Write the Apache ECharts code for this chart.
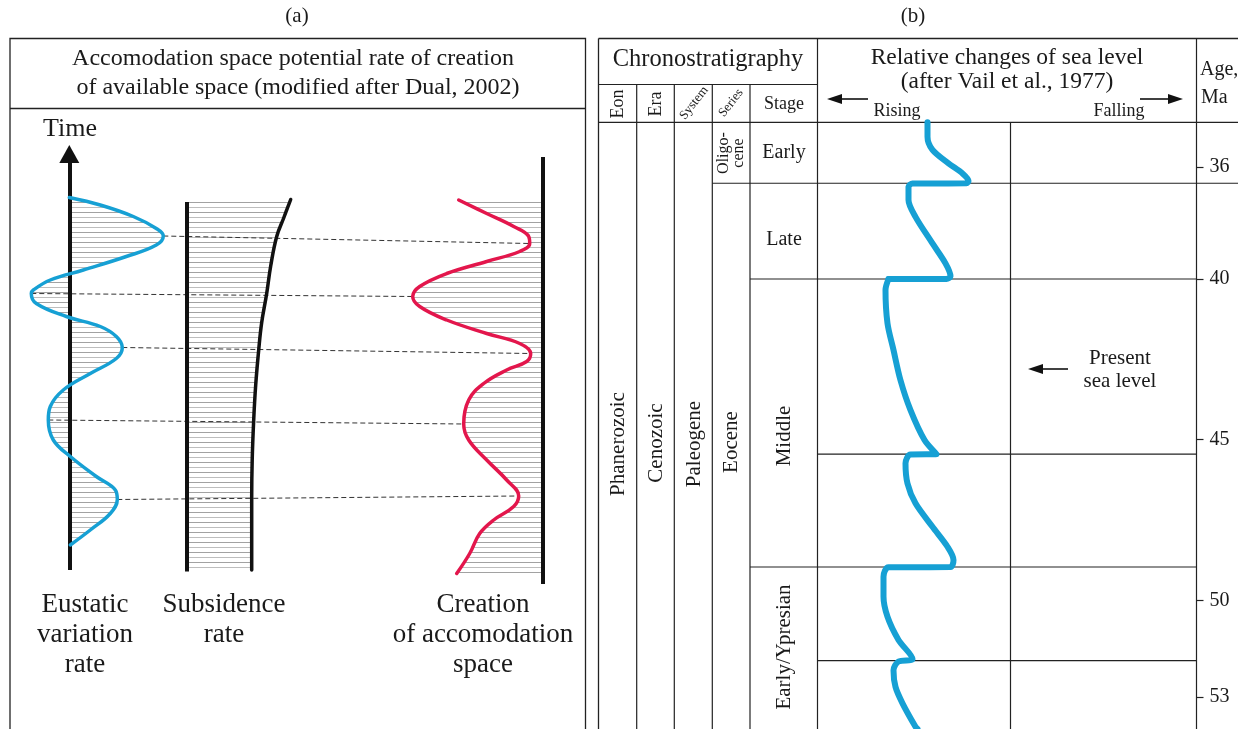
<!DOCTYPE html>
<html>
<head>
<meta charset="utf-8">
<title>Accommodation space and Eocene sea level</title>
<script src="https://cdn.jsdelivr.net/npm/echarts@6.0.0/dist/echarts.min.js"></script>
<style>
  html, body { margin: 0; padding: 0; background: #ffffff; }
  #chart { width: 1238px; height: 729px; }
</style>
</head>
<body>
<div id="chart"></div>
<script>
// ---------- (a) schematic rates: [rate, time], time grows upward (arbitrary units)
const eustaticRate = [
  [0.0, 75.5], [3.1, 74.0], [6.4, 71.7], [8.7, 69.3], [9.4, 67.8], [8.7, 66.0],
  [5.7, 63.7], [1.4, 61.0], [-1.9, 59.0], [-3.6, 57.0], [-3.8, 56.3], [-3.3, 54.3],
  [-0.3, 51.7], [3.1, 49.7], [4.7, 47.7], [5.3, 45.5], [4.7, 43.3], [2.1, 40.3],
  [-0.6, 37.0], [-1.9, 33.7], [-2.1, 31.0], [-1.6, 27.0], [0.1, 23.7], [2.7, 19.7],
  [4.6, 17.0], [4.8, 15.1], [4.1, 12.3], [2.1, 9.0], [0.1, 6.0]
];
const subsidenceRate = [
  [10.4, 75.1], [9.7, 71.4], [9.0, 67.7], [8.4, 61.8], [8.0, 56.3], [7.5, 50.5],
  [7.2, 45.0], [6.9, 38.0], [6.7, 31.0], [6.55, 23.0], [6.5, 15.7], [6.5, 1.0]
];
const accommodationRate = [
  [8.4, 75.0], [5.6, 72.3], [2.9, 69.7], [1.4, 67.7], [1.3, 66.3], [2.3, 64.7],
  [5.6, 62.7], [9.6, 60.3], [12.3, 57.7], [13.0, 55.7], [12.3, 53.7], [9.6, 51.0],
  [5.6, 48.3], [2.3, 46.3], [1.2, 44.3], [1.6, 42.7], [3.6, 41.0], [5.9, 38.3],
  [7.4, 35.0], [7.9, 30.2], [7.4, 27.0], [5.6, 23.0], [3.6, 19.0], [2.4, 15.8],
  [2.9, 13.7], [4.9, 11.0], [6.3, 8.3], [7.3, 4.3], [8.6, 0.3]
];
// index pairs of matching extrema: eustatic curve -> accommodation curve
const extremaLinks = [[4, 4], [10, 9], [15, 14], [20, 19], [25, 23]];

// ---------- (b) relative sea level (after Vail et al., 1977): [level vs present, age Ma]
const seaLevelUpper = [
  [0.83, 34.4], [0.83, 34.92], [0.78, 35.39], [0.62, 35.87], [0.48, 36.23],
  [0.42, 36.50], [0.44, 36.58], [0.98, 36.59], [1.02, 36.70], [1.02, 37.18],
  [0.95, 37.78], [0.78, 38.73], [0.65, 39.44], [0.60, 39.90], [0.64, 40.0], [1.22, 40.0]
];
const seaLevelLower = [
  [1.22, 40.0], [1.25, 40.34], [1.23, 41.38], [1.17, 42.21], [1.10, 43.15],
  [1.00, 44.08], [0.86, 45.01], [0.74, 45.45], [1.00, 45.46], [1.05, 45.73],
  [1.03, 46.36], [0.95, 46.98], [0.78, 47.71], [0.63, 48.33], [0.57, 48.74],
  [0.60, 48.96], [1.22, 48.97], [1.27, 49.26], [1.27, 49.88], [1.23, 50.51],
  [1.12, 51.23], [0.98, 51.82], [1.12, 51.90], [1.17, 52.17], [1.15, 52.69],
  [1.08, 53.20], [0.95, 53.93], [0.93, 54.0]
];
const ageTicksUpper = [36];
const ageTicksLower = [40, 45, 50, 53];
const epochBoundaryAge = 36.58;          // Oligocene / Eocene
const stageBoundaryAges = [40.0, 48.96]; // Late / Middle, Middle / Early
const cycleBoundaryAges = [45.45, 51.87];

// ---------- drawing setup
const FONT = '"Liberation Serif", "Times New Roman", serif';
const INK = '#1a1a1a';
const BLUE = '#16a0d4';
const RED = '#e3164c';

// horizontal hatching used between each rate curve and its reference line
const hatch = document.createElement('canvas');
hatch.width = 8; hatch.height = 10;
(function () {
  const c = hatch.getContext('2d');
  c.fillStyle = '#a2a2a2';
  c.fillRect(0, 2, 8, 1);
  c.fillStyle = '#bdbdbd';
  c.fillRect(0, 7, 8, 1);
})();

function hatchFill(grid, points) {
  return {
    type: 'custom', xAxisIndex: grid, yAxisIndex: grid, z: 2, silent: true,
    data: [[0, 0]],
    renderItem: function (params, api) {
      const pts = points.map(function (p) { return api.coord(p); });
      pts.push(api.coord([0, points[points.length - 1][1]]));
      pts.push(api.coord([0, points[0][1]]));
      return {
        type: 'polygon', shape: { points: pts },
        style: { fill: { image: hatch, repeat: 'repeat' }, stroke: null }
      };
    }
  };
}

function rateCurve(grid, data, color, width, smooth, extra) {
  return Object.assign({
    type: 'line', xAxisIndex: grid, yAxisIndex: grid, data: data, z: 6,
    smooth: smooth, showSymbol: false, symbol: 'none',
    silent: true, clip: false,
    lineStyle: { color: color, width: width, cap: 'round', join: 'round' }
  }, extra || {});
}

function refLine(from, to, withArrow) {
  return {
    silent: true, z: 5, animation: false,
    symbol: withArrow ? ['none', 'triangle'] : ['none', 'none'],
    symbolSize: [20, 18],
    label: { show: false },
    lineStyle: { color: '#111', width: 4, type: 'solid' },
    itemStyle: { color: '#111' },
    data: [[{ coord: from }, { coord: to }]]
  };
}

const seaMarker = {
  silent: true, symbol: ['none', 'none'], label: { show: false }, animation: false,
  lineStyle: { color: '#222', width: 1.2, type: 'solid' },
  data: [{ xAxis: 0 }]
};

function ageAxis(grid, min, max, ticks) {
  return {
    gridIndex: grid, type: 'value', min: min, max: max, inverse: true, position: 'right',
    axisLine: { show: false, onZero: false }, splitLine: { show: false },
    axisTick: { show: true, inside: false, length: 7, customValues: ticks,
      lineStyle: { color: '#222', width: 1.2 } },
    axisLabel: { show: true, customValues: ticks, margin: 13, color: INK,
      fontFamily: FONT, fontSize: 20 }
  };
}

const chart = echarts.init(document.getElementById('chart'), null, { renderer: 'canvas' });

chart.setOption({
  animation: false,
  backgroundColor: '#ffffff',
  grid: [
    { left: 19.3, top: 150, width: 150, height: 450 },   // eustatic
    { left: 186.7, top: 150, width: 150, height: 450 },  // subsidence
    { left: 392.7, top: 150, width: 150, height: 450 },  // accommodation
    { left: 817.5, top: 122.2, width: 379, height: 156.8 }, // 34.4–40 Ma
    { left: 817.5, top: 279, width: 379, height: 450 }      // 40–54 Ma
  ],
  xAxis: [
    { gridIndex: 0, type: 'value', min: -5, max: 10, show: false },
    { gridIndex: 1, type: 'value', min: 0, max: 15, show: false },
    { gridIndex: 2, type: 'value', min: 0, max: 15, inverse: true, show: false },
    { gridIndex: 3, type: 'value', min: -1.86, max: 1.93, inverse: true, show: false },
    { gridIndex: 4, type: 'value', min: -1.86, max: 1.93, inverse: true, show: false }
  ],
  yAxis: [
    { gridIndex: 0, type: 'value', min: -5, max: 85, show: false },
    { gridIndex: 1, type: 'value', min: -5, max: 85, show: false },
    { gridIndex: 2, type: 'value', min: -5, max: 85, show: false },
    ageAxis(3, 34.4, 40, ageTicksUpper),
    ageAxis(4, 40, 54, ageTicksLower)
  ],
  series: [
    hatchFill(0, eustaticRate),
    hatchFill(1, subsidenceRate),
    hatchFill(2, accommodationRate),
    rateCurve(0, eustaticRate, BLUE, 3.5, 0.4, { markLine: refLine([0, 1], [0, 84.2], true) }),
    rateCurve(1, subsidenceRate, '#111', 3.5, 0.4, { markLine: refLine([0, 74.6], [0, 0.7], false) }),
    rateCurve(2, accommodationRate, RED, 3.5, 0.4, { markLine: refLine([0, 83.6], [0, -1.8], false) }),
    rateCurve(3, seaLevelUpper, BLUE, 6, 0.3, { markLine: seaMarker }),
    rateCurve(4, seaLevelLower, BLUE, 6, 0.3, { markLine: seaMarker })
  ]
});

// ---------- frames, table rules and text
function txt(text, x, y, size, opts) {
  opts = opts || {};
  return {
    type: 'text', x: x, y: y, z: 10, silent: true,
    rotation: (opts.rot || 0) * Math.PI / 180,
    style: {
      text: text, fill: INK, font: size + 'px ' + FONT,
      align: opts.align || 'center', verticalAlign: 'middle',
      lineHeight: opts.lh || Math.round(size * 1.15)
    }
  };
}
function rule(x1, y1, x2, y2, w, color) {
  return { type: 'line', z: 1, silent: true, shape: { x1: x1, y1: y1, x2: x2, y2: y2 },
    style: { stroke: color || '#222', lineWidth: w || 1.2 } };
}
function arrowHead(tipX, y, dir) {
  const b = tipX - dir * 15;
  return { type: 'polygon', z: 10, silent: true,
    shape: { points: [[tipX, y], [b, y - 5], [b, y + 5]] }, style: { fill: '#111' } };
}
function ageY(age) {
  const grid = age < 40 ? 3 : 4;
  return chart.convertToPixel({ gridIndex: grid }, [0, age])[1];
}

const g = [];
// panel (a)
g.push({ type: 'rect', z: 1, silent: true, shape: { x: 10, y: 38.5, width: 575.5, height: 720 },
  style: { fill: null, stroke: '#222', lineWidth: 1.3 } });
g.push(rule(10, 108.5, 585.5, 108.5, 1.3));
g.push(txt('(a)', 297, 16, 21));
g.push(txt('Accomodation space potential rate of creation', 293, 59, 24));
g.push(txt('of available space (modified after Dual, 2002)', 298, 88, 24));
g.push(txt('Time', 70, 129, 26));
g.push(txt('Eustatic\nvariation\nrate', 85, 635, 27, { lh: 30 }));
g.push(txt('Subsidence\nrate', 224, 620, 27, { lh: 30 }));
g.push(txt('Creation\nof accomodation\nspace', 483, 635, 27, { lh: 30 }));

// dashed links between matching extrema
extremaLinks.forEach(function (pair) {
  const a = chart.convertToPixel({ gridIndex: 0 }, eustaticRate[pair[0]]);
  const b = chart.convertToPixel({ gridIndex: 2 }, accommodationRate[pair[1]]);
  g.push({ type: 'line', z: 3, silent: true, shape: { x1: a[0], y1: a[1], x2: b[0], y2: b[1] },
    style: { stroke: '#333', lineWidth: 1, lineDash: [5, 3] } });
});

// panel (b) frame and columns
g.push(rule(598.5, 38.5, 1238, 38.5, 1.3));
g.push(rule(598.5, 38.5, 598.5, 729, 1.3));
g.push(rule(598.5, 84.5, 817.5, 84.5));
g.push(rule(598.5, 122.3, 1238, 122.3));
[636.7, 674.3, 712.3, 750].forEach(function (x) { g.push(rule(x, 84.5, x, 729)); });
g.push(rule(817.5, 38.5, 817.5, 729));
g.push(rule(1196.5, 38.5, 1196.5, 729));

// time boundaries
const yEpoch = ageY(epochBoundaryAge);
g.push(rule(712.3, yEpoch, 1238, yEpoch));
stageBoundaryAges.forEach(function (a) { const y = ageY(a); g.push(rule(750, y, 1196.5, y)); });
cycleBoundaryAges.forEach(function (a) { const y = ageY(a); g.push(rule(817.5, y, 1196.5, y)); });

g.push(txt('(b)', 913, 16, 21));
g.push(txt('Chronostratigraphy', 708, 60, 24.5));
g.push(txt('Eon', 618, 104, 18, { rot: 90 }));
g.push(txt('Era', 656, 104, 18, { rot: 90 }));
g.push(txt('System', 694, 103, 13, { rot: 52 }));
g.push(txt('Series', 731, 103, 13, { rot: 52 }));
g.push(txt('Stage', 784, 104, 18));
g.push(txt('Relative changes of sea level', 1007, 58, 23.5));
g.push(txt('(after Vail et al., 1977)', 1007, 82, 23.5));
g.push(txt('Rising', 897, 111, 18));
g.push(txt('Falling', 1119, 111, 18));
g.push(rule(868, 99, 838, 99, 1.6, '#111'));
g.push(arrowHead(827, 99, -1));
g.push(rule(1140, 99, 1170, 99, 1.6, '#111'));
g.push(arrowHead(1183, 99, 1));
g.push(txt('Age,', 1200, 70, 20, { align: 'left' }));
g.push(txt('Ma', 1201, 98, 20, { align: 'left' }));

g.push(txt('Oligo-\ncene', 731, 153, 16, { rot: 90, lh: 15 }));
g.push(txt('Early', 784, 153, 20));
g.push(txt('Late', 784, 240, 20));
g.push(txt('Phanerozoic', 618, 444, 21, { rot: 90 }));
g.push(txt('Cenozoic', 656, 443, 21, { rot: 90 }));
g.push(txt('Paleogene', 694, 444, 21, { rot: 90 }));
g.push(txt('Eocene', 731, 442, 21, { rot: 90 }));
g.push(txt('Middle', 784, 436, 21, { rot: 90 }));
g.push(txt('Early/Ypresian', 784, 647, 21, { rot: 90 }));

g.push(txt('Present\nsea level', 1120, 370, 21, { lh: 23 }));
g.push(rule(1068, 369, 1042, 369, 1.6, '#111'));
g.push(arrowHead(1028, 369, -1));

chart.setOption({ graphic: { elements: g } });
</script>
</body>
</html>
